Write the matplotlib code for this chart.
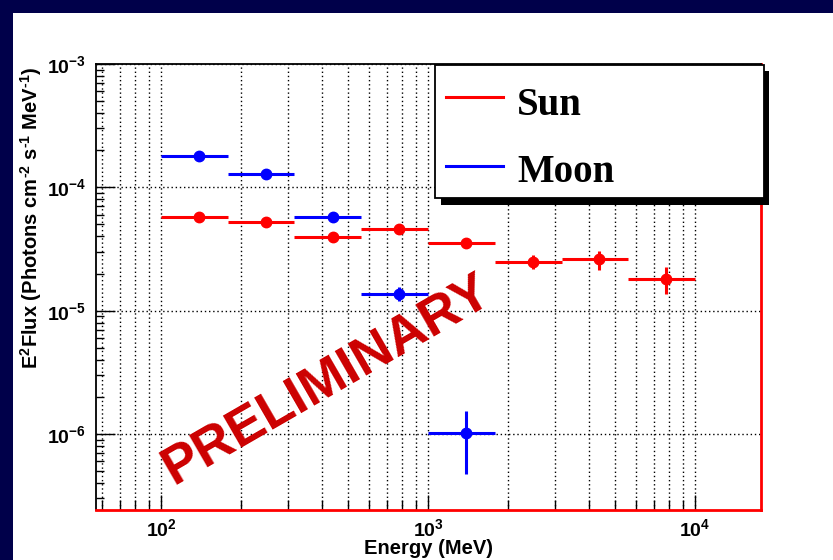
import numpy as np
import matplotlib
matplotlib.use("Agg")
import matplotlib.pyplot as plt
from matplotlib.patches import Rectangle
from matplotlib.lines import Line2D
from matplotlib.ticker import LogLocator, NullFormatter

plt.rcParams['font.family'] = ['Liberation Sans', 'DejaVu Sans']
plt.rcParams['font.weight'] = 'bold'
plt.rcParams['mathtext.fontset'] = 'custom'
plt.rcParams['mathtext.rm'] = 'Liberation Sans:bold'
plt.rcParams['mathtext.it'] = 'Liberation Sans:bold'
plt.rcParams['mathtext.bf'] = 'Liberation Sans:bold'

# Sun spectrum (energy bins in MeV, E^2 flux)
sun_e = np.array([139, 247, 440, 779, 1387, 2466, 4385, 7785])
sun_lo = np.array([100, 178, 316, 562, 1000, 1778, 3162, 5623])
sun_hi = np.array([178, 316, 562, 1000, 1778, 3162, 5623, 10000])
sun_flux = np.array([5.79e-5, 5.21e-5, 3.98e-5, 4.57e-5, 3.51e-5, 2.48e-5, 2.61e-5, 1.81e-5])
sun_up = np.array([6.05e-5, 5.45e-5, 4.18e-5, 4.8e-5, 3.72e-5, 2.83e-5, 3.07e-5, 2.28e-5])
sun_down = np.array([5.55e-5, 4.98e-5, 3.8e-5, 4.36e-5, 3.3e-5, 2.18e-5, 2.14e-5, 1.37e-5])

# Moon spectrum
moon_e = np.array([139, 247, 440, 779, 1387])
moon_lo = np.array([100, 178, 316, 562, 1000])
moon_hi = np.array([178, 316, 562, 1000, 1778])
moon_flux = np.array([1.81e-4, 1.29e-4, 5.79e-5, 1.36e-5, 1.01e-6])
moon_up = np.array([1.89e-4, 1.35e-4, 6.1e-5, 1.55e-5, 1.54e-6])
moon_down = np.array([1.73e-4, 1.23e-4, 5.5e-5, 1.2e-5, 4.74e-7])

W, H = 833, 560
fig = plt.figure(figsize=(W / 100, H / 100), dpi=100)
fig.patch.set_facecolor('#00004a')
# white slide panel
fig.add_artist(Rectangle((13 / W, 0), 1, 1 - 13 / H, transform=fig.transFigure,
                         facecolor='white', edgecolor='none', zorder=-1))

ax = fig.add_axes([96 / W, 50 / H, 665 / W, 446 / H])
ax.set_xscale('log')
ax.set_yscale('log')

ax.errorbar(sun_e, sun_flux, xerr=[sun_e - sun_lo, sun_hi - sun_e],
            yerr=[sun_flux - sun_down, sun_up - sun_flux],
            fmt='o', color='#ff0000', ms=7.5, lw=2.2, capsize=0, zorder=3)
ax.errorbar(moon_e, moon_flux, xerr=[moon_e - moon_lo, moon_hi - moon_e],
            yerr=[moon_flux - moon_down, moon_up - moon_flux],
            fmt='o', color='#0000ff', ms=7.5, lw=2.2, capsize=0, zorder=3)

ax.set_xlim(57.1, 17660)
ax.set_ylim(2.42e-7, 1e-3)

ax.xaxis.set_minor_locator(LogLocator(base=10, subs=np.arange(2, 10)))
ax.yaxis.set_minor_locator(LogLocator(base=10, subs=np.arange(2, 10)))
ax.xaxis.set_minor_formatter(NullFormatter())
ax.yaxis.set_minor_formatter(NullFormatter())

ax.set_axisbelow(True)
ax.xaxis.grid(True, which='both', ls=(0, (1, 2)), color='black', lw=1)
ax.yaxis.grid(True, which='major', ls=(0, (1, 2)), color='black', lw=1)

ax.tick_params(axis='both', which='both', direction='in', top=False, right=False,
               labelsize=14, width=1)
ax.tick_params(axis='y', which='major', length=14, pad=7)
ax.tick_params(axis='y', which='minor', length=6)
ax.tick_params(axis='x', which='major', length=11, pad=6)
ax.tick_params(axis='x', which='minor', length=7)

for s in ['left', 'top']:
    ax.spines[s].set_color('black')
    ax.spines[s].set_linewidth(1.3)
for s in ['bottom', 'right']:
    ax.spines[s].set_color('#ff0000')
    ax.spines[s].set_linewidth(2)

ax.set_xlabel('Energy (MeV)', fontsize=14.5, fontweight='bold', labelpad=-1)
ax.set_ylabel(r'E$^{\mathdefault{2}}$Flux (Photons cm$^{\text{-}\mathdefault{2}}$ '
              r's$^{\text{-}\mathdefault{1}}$ MeV$^{\text{-}\mathdefault{1}}$)',
              fontsize=14.5, fontweight='bold')
ax.yaxis.set_label_coords(-0.078, 0.655)

# PRELIMINARY stamp
fig.text(327 / W, 1 - 380 / H, 'PRELIMINARY', rotation=30, rotation_mode='anchor',
         ha='center', va='center', color='#cc0000', fontsize=39, fontweight='bold', zorder=5)

# ROOT-style legend with solid shadow
fig.add_artist(Rectangle((441 / W, 1 - 205 / H), (769 - 441) / W, (205 - 71) / H,
                         transform=fig.transFigure, facecolor='black', edgecolor='none', zorder=6))
fig.add_artist(Rectangle((435 / W, 1 - 198 / H), (764 - 435) / W, (198 - 65) / H,
                         transform=fig.transFigure, facecolor='white', edgecolor='black',
                         lw=1.3, zorder=7))
labels = ['Sun', 'Moon']
colors = ['#ff0000', '#0000ff']
line_y = [97, 166]
base_y = [115, 182]
for lab, c, ly, by in zip(labels, colors, line_y, base_y):
    fig.add_artist(Line2D([446 / W, 503 / W], [1 - ly / H] * 2, color=c, lw=2.2,
                          transform=fig.transFigure, zorder=8))
    fig.text(517 / W, 1 - by / H, lab, family='Liberation Serif', fontweight='bold',
             fontsize=28, ha='left', va='baseline', zorder=8)

fig.savefig('out.png', dpi=100, facecolor=fig.get_facecolor())
